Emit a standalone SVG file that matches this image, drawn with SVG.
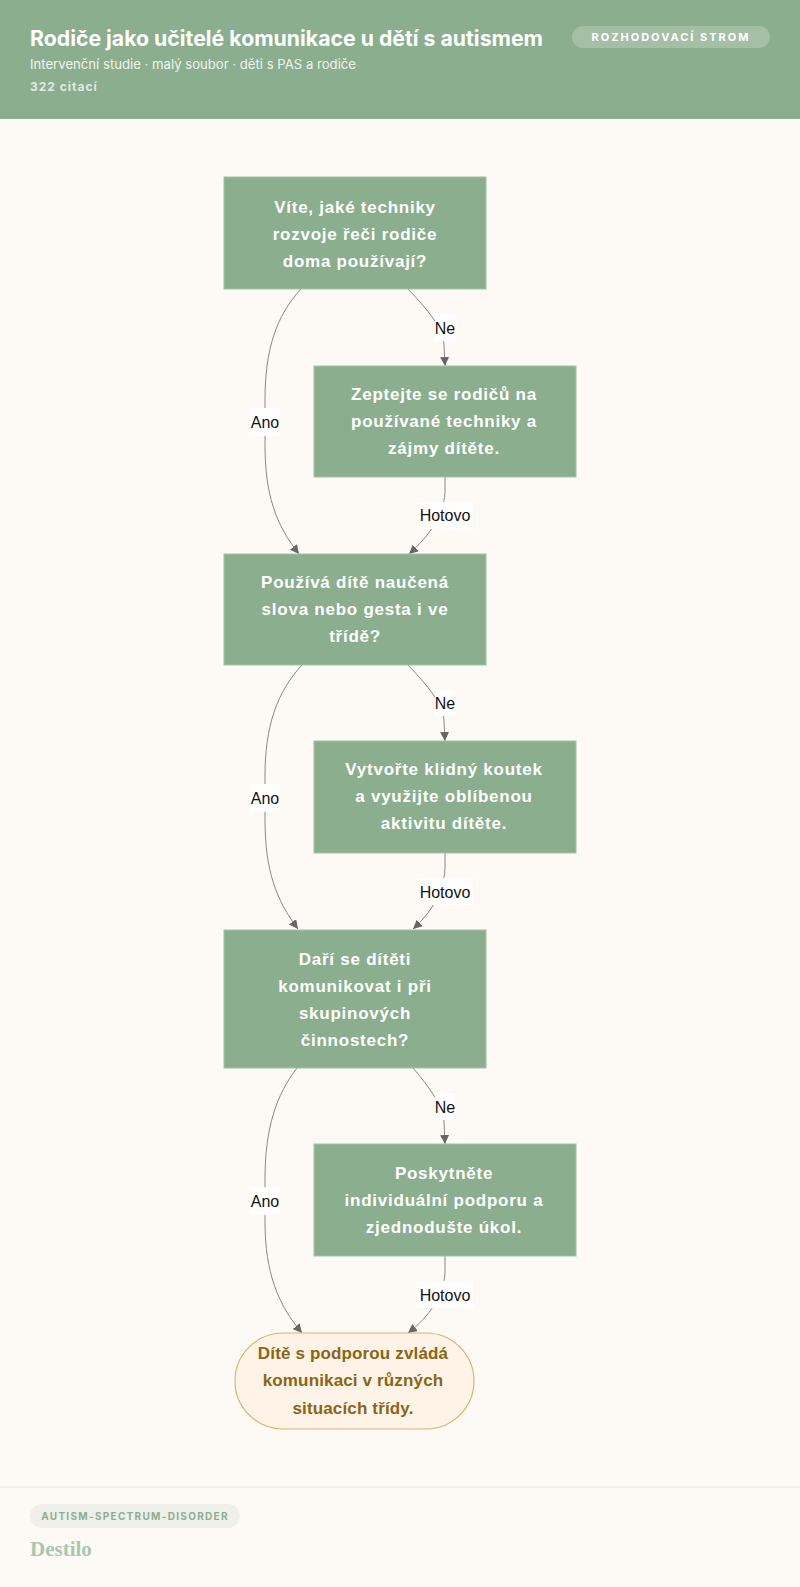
<svg xmlns="http://www.w3.org/2000/svg" width="800" height="1587" viewBox="0 0 800 1587">
<style>
.node rect{fill:#8BAE8E;stroke:#A3C2A4;stroke-width:1}
.nt{font-family:"Liberation Sans",Arial,sans-serif;font-weight:700;font-size:17px;fill:#FFFFFF;text-anchor:middle;letter-spacing:0.75px}
.term rect{fill:#FDF3E6;stroke:#D9B46C;stroke-width:1.2}
.tt{font-family:"Liberation Sans",Arial,sans-serif;font-weight:700;font-size:17px;fill:#8A6516;text-anchor:middle;letter-spacing:0.15px}
.edge{fill:none;stroke:#888888;stroke-width:1}
.lbl rect{fill:#FFFFFF}
.lt{font-family:"Liberation Sans",Arial,sans-serif;font-size:16px;fill:#111111;text-anchor:middle}
</style>
<defs>
<marker id="ah" viewBox="0 0 10 10" refX="10" refY="5" markerWidth="9" markerHeight="9" markerUnits="userSpaceOnUse" orient="auto">
<path d="M0,0 L10,5 L0,10 z" fill="#666666"/>
</marker>
</defs>
<rect x="0" y="0" width="800" height="1587" fill="#FDFAF6"/>
<g id="header">
<rect x="0" y="0" width="800" height="119" fill="#8BAE8E"/>
<text x="30" y="46" font-family="Inter,'Liberation Sans',sans-serif" font-weight="700" font-size="21" fill="#FFFFFF" textLength="513" lengthAdjust="spacingAndGlyphs">Rodiče jako učitelé komunikace u dětí s autismem</text>
<text x="30" y="69" font-family="Inter,'Liberation Sans',sans-serif" font-size="13" fill="#FFFFFF" fill-opacity="0.9" textLength="326" lengthAdjust="spacingAndGlyphs">Intervenční studie · malý soubor · děti s PAS a rodiče</text>
<text x="30" y="91" font-family="Inter,'Liberation Sans',sans-serif" font-weight="700" font-size="12" fill="#FFFFFF" fill-opacity="0.75" letter-spacing="1">322 citací</text>
<rect x="572" y="26" width="198" height="22" rx="11" fill="#FFFFFF" fill-opacity="0.22"/>
<text x="671" y="41" font-family="Inter,'Liberation Sans',sans-serif" font-weight="700" font-size="11" fill="#FFFFFF" text-anchor="middle" letter-spacing="2">ROZHODOVACÍ STROM</text>
</g>
<g id="connectors">
<path class="edge" d="M301,289 C276,316 265,350 265,400 L265,445 C265,495 276,525 299,554" marker-end="url(#ah)"/>
<path class="edge" d="M408,289 C428,310 443,328 444,345 L445,366" marker-end="url(#ah)"/>
<path class="edge" d="M445,477 L445,492 C444,515 430,535 409,554" marker-end="url(#ah)"/>
<path class="edge" d="M302,665 C277,692 265,726 265,776 L265,820 C265,870 276,900 298,929" marker-end="url(#ah)"/>
<path class="edge" d="M408,665 C428,686 443,704 444,721 L445,741" marker-end="url(#ah)"/>
<path class="edge" d="M445,853 L445,868 C444,891 432,912 413,929" marker-end="url(#ah)"/>
<path class="edge" d="M297,1068 C276,1095 265,1129 265,1179 L265,1222 C265,1272 278,1305 302,1333" marker-end="url(#ah)"/>
<path class="edge" d="M413,1068 C430,1088 443,1106 444,1122 L445,1144" marker-end="url(#ah)"/>
<path class="edge" d="M445,1256 L445,1272 C444,1295 430,1316 408,1333" marker-end="url(#ah)"/>
<g class="lbl">
<rect x="250" y="408" width="30" height="28"/><text class="lt" x="265" y="428">Ano</text>
<rect x="435" y="314" width="20" height="27"/><text class="lt" x="445" y="334">Ne</text>
<rect x="417" y="502" width="56" height="27"/><text class="lt" x="445" y="521">Hotovo</text>
<rect x="250" y="784" width="30" height="28"/><text class="lt" x="265" y="804">Ano</text>
<rect x="435" y="689" width="20" height="27"/><text class="lt" x="445" y="709">Ne</text>
<rect x="417" y="878" width="56" height="27"/><text class="lt" x="445" y="898">Hotovo</text>
<rect x="250" y="1187" width="30" height="28"/><text class="lt" x="265" y="1207">Ano</text>
<rect x="435" y="1093" width="20" height="27"/><text class="lt" x="445" y="1113">Ne</text>
<rect x="417" y="1281" width="56" height="27"/><text class="lt" x="445" y="1301">Hotovo</text>
</g>
</g>
<g id="n1" class="node">
<rect x="224" y="177" width="262" height="112"/>
<text class="nt" x="355" y="213">Víte, jaké techniky</text>
<text class="nt" x="355" y="240">rozvoje řeči rodiče</text>
<text class="nt" x="355" y="267">doma používají?</text>
</g>
<g id="n2" class="node">
<rect x="314" y="366" width="262" height="111"/>
<text class="nt" x="444" y="400">Zeptejte se rodičů na</text>
<text class="nt" x="444" y="427">používané techniky a</text>
<text class="nt" x="444" y="454">zájmy dítěte.</text>
</g>
<g id="n3" class="node">
<rect x="224" y="554" width="262" height="111"/>
<text class="nt" x="355" y="588">Používá dítě naučená</text>
<text class="nt" x="355" y="615">slova nebo gesta i ve</text>
<text class="nt" x="355" y="642">třídě?</text>
</g>
<g id="n4" class="node">
<rect x="314" y="741" width="262" height="112"/>
<text class="nt" x="444" y="775">Vytvořte klidný koutek</text>
<text class="nt" x="444" y="802">a využijte oblíbenou</text>
<text class="nt" x="444" y="829">aktivitu dítěte.</text>
</g>
<g id="n5" class="node">
<rect x="224" y="930" width="262" height="138"/>
<text class="nt" x="355" y="965">Daří se dítěti</text>
<text class="nt" x="355" y="992">komunikovat i při</text>
<text class="nt" x="355" y="1019">skupinových</text>
<text class="nt" x="355" y="1046">činnostech?</text>
</g>
<g id="n6" class="node">
<rect x="314" y="1144" width="262" height="112"/>
<text class="nt" x="444" y="1179">Poskytněte</text>
<text class="nt" x="444" y="1206">individuální podporu a</text>
<text class="nt" x="444" y="1233">zjednodušte úkol.</text>
</g>
<g id="n7" class="term">
<rect x="235" y="1333" width="239" height="96" rx="48"/>
<text class="tt" x="353" y="1359">Dítě s podporou zvládá</text>
<text class="tt" x="353" y="1386">komunikaci v různých</text>
<text class="tt" x="353" y="1414">situacích třídy.</text>
</g>
<g id="footer">
<line x1="0" y1="1487" x2="800" y2="1487" stroke="#ECE8E2" stroke-width="1"/>
<rect x="30" y="1504" width="210" height="24" rx="12" fill="#F0F0EA"/>
<text x="135" y="1520" font-family="Inter,'Liberation Sans',sans-serif" font-weight="700" font-size="10" fill="#8BAE8E" text-anchor="middle" letter-spacing="1.3">AUTISM-SPECTRUM-DISORDER</text>
<text x="30" y="1556" font-family="'Liberation Serif','DejaVu Serif',serif" font-weight="700" font-size="21" fill="#A9C6B0">Destilo</text>
</g>
</svg>
